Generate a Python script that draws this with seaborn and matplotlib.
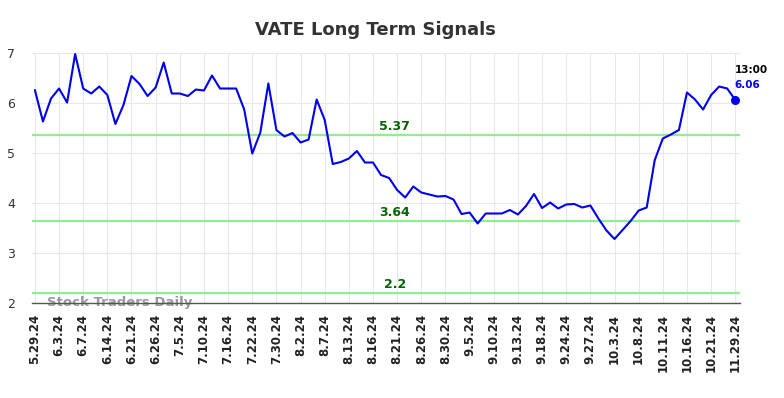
import matplotlib
matplotlib.use("Agg")
import matplotlib.pyplot as plt
import seaborn as sns
import pandas as pd
import numpy as np

sns.set_style("whitegrid")
plt.rcParams['font.family'] = ['DejaVu Sans']

# signal values, one per trading session
values = [6.26, 5.63, 6.09, 6.29, 6.01, 6.98, 6.29, 6.19, 6.33, 6.16,
          5.58, 5.96, 6.54, 6.38, 6.14, 6.31, 6.81, 6.19, 6.19, 6.14,
          6.27, 6.25, 6.55, 6.29, 6.29, 6.29, 5.87, 4.99, 5.41, 6.39,
          5.46, 5.33, 5.40, 5.21, 5.27, 6.07, 5.66, 4.78, 4.82, 4.89,
          5.04, 4.81, 4.81, 4.56, 4.50, 4.26, 4.11, 4.33, 4.21, 4.17,
          4.13, 4.14, 4.07, 3.78, 3.81, 3.59, 3.79, 3.79, 3.79, 3.86,
          3.77, 3.94, 4.18, 3.90, 4.01, 3.89, 3.97, 3.98, 3.91, 3.95,
          3.69, 3.45, 3.28, 3.46, 3.64, 3.85, 3.91, 4.86, 5.29, 5.37,
          5.46, 6.21, 6.07, 5.87, 6.16, 6.33, 6.29, 6.06]

tick_labels = ['5.29.24', '6.3.24', '6.7.24', '6.14.24', '6.21.24', '6.26.24',
               '7.5.24', '7.10.24', '7.16.24', '7.22.24', '7.30.24', '8.2.24',
               '8.7.24', '8.13.24', '8.16.24', '8.21.24', '8.26.24', '8.30.24',
               '9.5.24', '9.10.24', '9.13.24', '9.18.24', '9.24.24', '9.27.24',
               '10.3.24', '10.8.24', '10.11.24', '10.16.24', '10.21.24', '11.29.24']

signal_levels = [5.37, 3.64, 2.2]
last_time = '13:00'

df = pd.DataFrame({'idx': np.arange(len(values)), 'value': values})

fig = plt.figure(figsize=(7.84, 3.98), dpi=100)
ax = fig.add_axes([0.0404, 0.2387, 0.9036, 0.6281])

for lvl in signal_levels:
    ax.axhline(lvl, color='#90ee90', lw=1.6, zorder=2)

sns.lineplot(data=df, x='idx', y='value', ax=ax, color='#0000ee', lw=1.5, zorder=3)

last = df.iloc[-1]
ax.scatter([last['idx']], [last['value']], color='#0000ee', s=30, zorder=4)

ax.set_xlim(-0.4, len(values) - 0.4)
ax.set_ylim(2, 7)
ax.set_yticks([2, 3, 4, 5, 6, 7])

mid = (len(values) - 1) / 2 + 1.2
for lvl in signal_levels:
    ax.text(mid, lvl + 0.04, f'{lvl:g}', color='#006400', fontsize=9,
            fontweight='bold', ha='center', va='bottom', zorder=5)

ax.text(last['idx'] - 0.1, last['value'] + 0.5, last_time, fontsize=7.5,
        fontweight='bold', color='black', ha='left', va='bottom')
ax.text(last['idx'] - 0.1, last['value'] + 0.2, f"{last['value']:.2f}", fontsize=7.5,
        fontweight='bold', color='#0000ee', ha='left', va='bottom')

ax.text(1.5, 2.0, 'Stock Traders Daily', fontsize=9.5, fontweight='bold',
        color='#999999', ha='left', va='center', zorder=1)

tick_pos = np.arange(0, len(values), 3)
ax.set_xticks(tick_pos)
ax.set_xticklabels(tick_labels, rotation=90, fontsize=8.5, fontweight='bold')
ax.tick_params(axis='y', labelsize=9, colors='#333333', length=0, pad=12)
ax.tick_params(axis='x', length=0, pad=8, colors='#222222')
ax.set_xlabel('')
ax.set_ylabel('')
ax.grid(True, color='#e8e8e8', lw=0.8)

for side in ['top', 'right', 'left']:
    ax.spines[side].set_visible(False)
ax.spines['bottom'].set_color('#555555')
ax.spines['bottom'].set_linewidth(1.0)

ax.set_title('VATE Long Term Signals', fontsize=13, fontweight='bold',
             color='#333333', pad=13, x=0.485)

fig.savefig('out.png', dpi=100)
